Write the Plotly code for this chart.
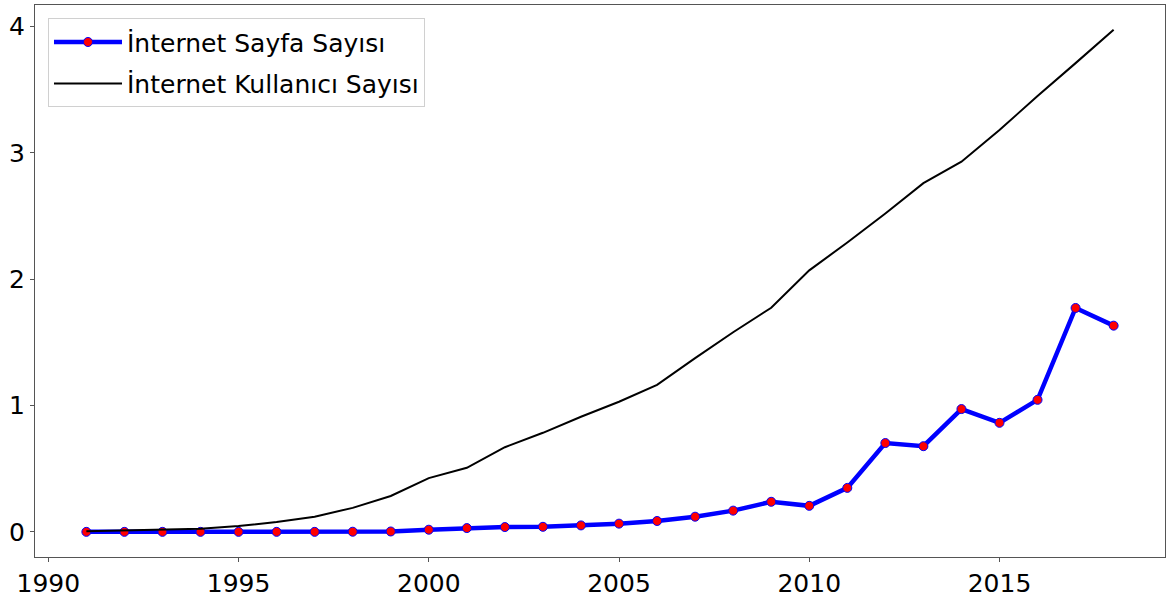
import plotly.graph_objects as go

years = list(range(1991, 2019))
sayfa = [0.0, 0.0, 0.0, 0.0, 0.0, 0.0, 0.0, 0.001, 0.003, 0.017, 0.03, 0.038, 0.04, 0.051,
         0.065, 0.086, 0.12, 0.168, 0.238, 0.206, 0.348, 0.703, 0.678, 0.972, 0.863, 1.045,
         1.772, 1.632]
kullanici = [0.004, 0.01, 0.014, 0.025, 0.046, 0.078, 0.12, 0.19, 0.284, 0.425, 0.507, 0.67,
             0.784, 0.911, 1.03, 1.164, 1.375, 1.58, 1.774, 2.07, 2.29, 2.52, 2.76, 2.93,
             3.18, 3.45, 3.71, 3.975]
x_ticks = [1990, 1995, 2000, 2005, 2010, 2015]
y_ticks = [0, 1, 2, 3, 4]

fig = go.Figure()
fig.add_trace(go.Scatter(
    x=years, y=sayfa, mode="lines+markers", name="İnternet Sayfa Sayısı",
    legendgroup="a",
    line=dict(color="#0000ff", width=4.5),
    marker=dict(color="#ff0000", size=9, line=dict(color="#0000ff", width=1)),
))
fig.add_trace(go.Scatter(
    x=years, y=kullanici, mode="lines", name="İnternet Kullanıcı Sayısı",
    legendgroup="b",
    line=dict(color="#000000", width=2),
))

axis_common = dict(
    showgrid=False, zeroline=False, showline=True, linecolor="#555555", linewidth=1,
    mirror=True, ticks="outside", ticklen=4, tickcolor="#555555", tickwidth=1,
    automargin=False,
    tickfont=dict(family="DejaVu Sans", size=25, color="#000000"),
)
fig.update_xaxes(range=[1989.65, 2019.35], tickvals=x_ticks, **axis_common)
fig.update_yaxes(range=[-0.199, 4.17], tickvals=y_ticks, **axis_common)

fig.update_layout(
    width=1171, height=592,
    margin=dict(l=35, r=6, t=5, b=35),
    paper_bgcolor="white", plot_bgcolor="white",
    font=dict(family="DejaVu Sans", size=25, color="#000000"),
    showlegend=True,
    legend=dict(
        x=0.0115, y=0.976, xanchor="left", yanchor="top",
        bgcolor="rgba(255,255,255,0.8)", bordercolor="#d0d0d0", borderwidth=1,
        font=dict(family="DejaVu Sans", size=25, color="#000000"),
        itemwidth=68, tracegroupgap=6, traceorder="grouped",
    ),
)

fig.write_html(
    "out.html",
    config={"displayModeBar": False},
    post_script="document.body.style.margin='0px';document.body.style.overflow='hidden';",
)
